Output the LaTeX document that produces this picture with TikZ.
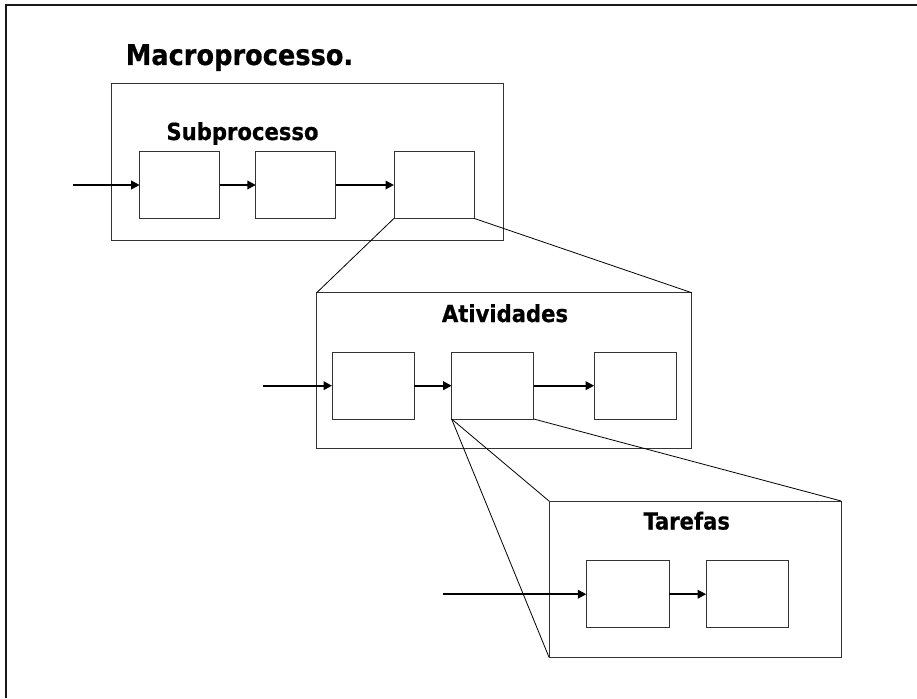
\documentclass[tikz,border=0pt]{standalone}
\usepackage{fontspec}
\newfontfamily\lbl{DejaVu Sans Condensed}[FakeBold=0.6]
\usetikzlibrary{arrows.meta}
\begin{document}
\begin{tikzpicture}[x=1pt,y=-1pt,
  frame/.style={draw=black!80,line width=1pt,rectangle,inner sep=0pt,outer sep=0pt},
  stepbox/.style={frame,minimum width=81pt,minimum height=66.7pt},
  flow/.style={line width=1.9pt,-{Triangle[length=8.5pt,width=8.5pt]}},
  zoomline/.style={line width=0.8pt,black},
  title/.style={font=\lbl\bfseries\fontsize{28.5}{30}\selectfont,anchor=base,inner sep=0pt},
  sublabel/.style={font=\lbl\bfseries\fontsize{23.5}{25}\selectfont,anchor=base,inner sep=0pt}]
\useasboundingbox (0,0) rectangle (917,698);
\fill[white] (0,0) rectangle (917,698);
% page border (top and left edges)
\draw[line width=2pt,black!90] (6,698) -- (6,5) -- (917,5);

% level 1: subprocess
\node[title] (macro) at (239.5,65) {Macroprocesso.};
\node[frame,minimum width=392pt,minimum height=156pt] (S) at (307,162) {};
\node[sublabel] (lblS) at (242.5,140) {Subprocesso};
\node[stepbox,minimum width=80pt] (s1) at (179.7,185) {};
\node[stepbox,minimum width=80pt] (s2) at (295.8,185) {};
\node[stepbox,minimum width=80pt] (s3) at (434,185) {};
\coordinate (in0) at (73,185);
\draw[flow] (in0) -- (s1.west);
\draw[flow] (s1) -- (s2);
\draw[flow] (s2) -- (s3);

% level 2: activities
\node[frame,minimum width=375pt,minimum height=155.6pt] (A) at (504.2,370.5) {};
\node[sublabel] (lblA) at (505,322) {Atividades};
\node[stepbox,minimum width=82.3pt] (a1) at (373.2,385.7) {};
\node[stepbox,minimum width=82.3pt] (a2) at (492.8,385.7) {};
\node[stepbox,minimum width=82.3pt] (a3) at (635.3,385.7) {};
\coordinate (in1) at (263,385.7);
\draw[flow] (in1) -- (a1.west);
\draw[flow] (a1) -- (a2);
\draw[flow] (a2) -- (a3);

% level 3: tasks
\node[frame,minimum width=292.3pt,minimum height=156.3pt] (T) at (695.2,579.2) {};
\node[sublabel] (lblT) at (686.7,529.5) {Tarefas};
\node[stepbox,minimum width=82.7pt,minimum height=67pt] (t1) at (627.7,594.2) {};
\node[stepbox,minimum width=82.7pt,minimum height=67pt] (t2) at (747.5,594.2) {};
\coordinate (in2) at (442.7,594.2);
\draw[flow] (in2) -- (t1.west);
\draw[flow] (t1) -- (t2);

% zoom projections
\draw[zoomline] (s3.south west) -- (A.north west);
\draw[zoomline] (s3.south east) -- (A.north east);
\draw[zoomline] (a2.south west) -- (T.north west);
\draw[zoomline] (a2.south west) -- (T.south west);
\draw[zoomline] (a2.south east) -- (T.north east);
\end{tikzpicture}
\end{document}
